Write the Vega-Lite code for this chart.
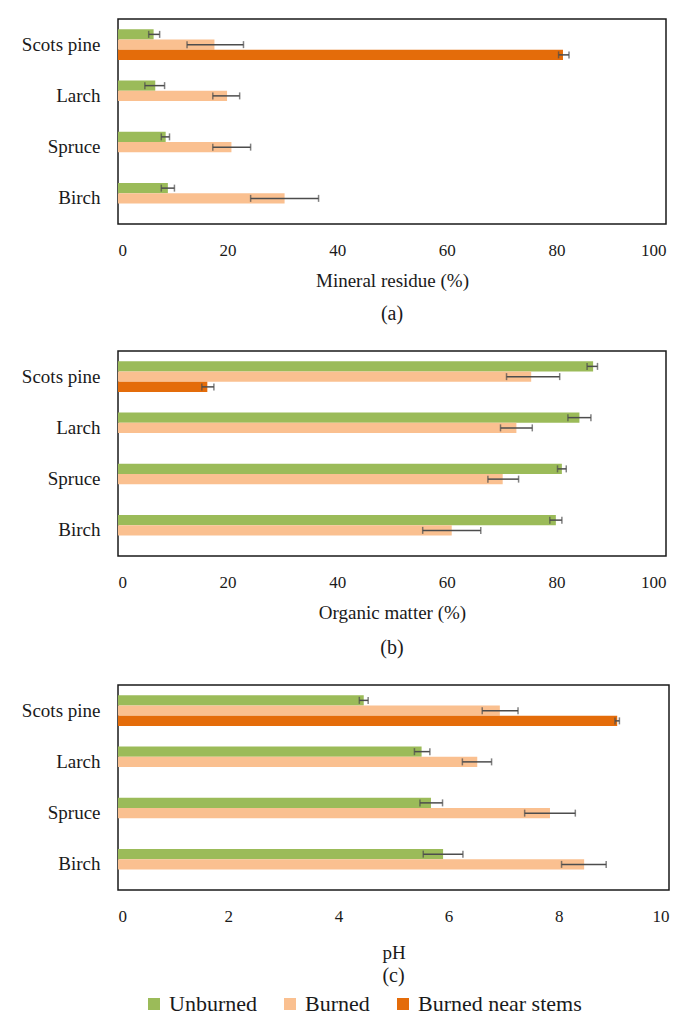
{
  "$schema": "https://vega.github.io/schema/vega-lite/v6.json",
  "padding": {"top": 18, "left": 20, "right": 2, "bottom": 2},
  "background": "white",
  "config": {
    "view": {"stroke": "#1a1a1a", "strokeWidth": 1.5},
    "font": "Liberation Serif",
    "axis": {"grid": false, "domain": false, "ticks": false, "tickSize": 0, "labelFont": "Liberation Serif", "labelColor": "#1a1a1a", "titleFont": "Liberation Serif", "titleColor": "#1a1a1a", "titleFontWeight": "normal"},
    "axisX": {"labelFont": "Liberation Serif", "labelFontSize": 17, "labelPadding": 18, "titleFontSize": 19, "titlePadding": 13},
    "axisY": {"labelFont": "Liberation Serif", "labelFontSize": 19, "labelPadding": 18},
    "title": {"font": "Liberation Serif", "fontSize": 20, "fontWeight": "normal", "color": "#1a1a1a", "orient": "bottom"},
    "legend": {"labelFont": "Liberation Serif", "labelFontSize": 22, "labelColor": "#1a1a1a", "labelLimit": 400}
  },
  "datasets": {
    "a": [
      {"species": "Scots pine", "cond": "Unburned", "value": 6.5, "lo": 5.6, "hi": 7.6},
      {"species": "Scots pine", "cond": "Burned", "value": 17.6, "lo": 12.6, "hi": 22.9},
      {"species": "Scots pine", "cond": "Burned near stems", "value": 81.2, "lo": 80.4, "hi": 82.3},
      {"species": "Larch", "cond": "Unburned", "value": 6.8, "lo": 4.9, "hi": 8.5},
      {"species": "Larch", "cond": "Burned", "value": 19.9, "lo": 17.3, "hi": 22.2},
      {"species": "Spruce", "cond": "Unburned", "value": 8.7, "lo": 7.9, "hi": 9.4},
      {"species": "Spruce", "cond": "Burned", "value": 20.7, "lo": 17.3, "hi": 24.2},
      {"species": "Birch", "cond": "Unburned", "value": 9.1, "lo": 7.9, "hi": 10.3},
      {"species": "Birch", "cond": "Burned", "value": 30.4, "lo": 24.2, "hi": 36.6}
    ],
    "b": [
      {"species": "Scots pine", "cond": "Unburned", "value": 86.7, "lo": 85.6, "hi": 87.5},
      {"species": "Scots pine", "cond": "Burned", "value": 75.4, "lo": 70.9, "hi": 80.6},
      {"species": "Scots pine", "cond": "Burned near stems", "value": 16.3, "lo": 15.3, "hi": 17.5},
      {"species": "Larch", "cond": "Unburned", "value": 84.2, "lo": 82.1, "hi": 86.3},
      {"species": "Larch", "cond": "Burned", "value": 72.7, "lo": 69.8, "hi": 75.6},
      {"species": "Spruce", "cond": "Unburned", "value": 81.0, "lo": 80.2, "hi": 81.8},
      {"species": "Spruce", "cond": "Burned", "value": 70.2, "lo": 67.5, "hi": 73.1},
      {"species": "Birch", "cond": "Unburned", "value": 79.9, "lo": 78.8, "hi": 81.0},
      {"species": "Birch", "cond": "Burned", "value": 60.9, "lo": 55.6, "hi": 66.2}
    ],
    "c": [
      {"species": "Scots pine", "cond": "Unburned", "value": 4.46, "lo": 4.38, "hi": 4.54},
      {"species": "Scots pine", "cond": "Burned", "value": 6.93, "lo": 6.61, "hi": 7.26},
      {"species": "Scots pine", "cond": "Burned near stems", "value": 9.06, "lo": 9.02, "hi": 9.1},
      {"species": "Larch", "cond": "Unburned", "value": 5.51, "lo": 5.38, "hi": 5.66},
      {"species": "Larch", "cond": "Burned", "value": 6.52, "lo": 6.25, "hi": 6.78},
      {"species": "Spruce", "cond": "Unburned", "value": 5.68, "lo": 5.48, "hi": 5.89},
      {"species": "Spruce", "cond": "Burned", "value": 7.84, "lo": 7.38, "hi": 8.3},
      {"species": "Birch", "cond": "Unburned", "value": 5.9, "lo": 5.54, "hi": 6.26},
      {"species": "Birch", "cond": "Burned", "value": 8.46, "lo": 8.05, "hi": 8.86}
    ]
  },
  "spacing": 25,
  "vconcat": [
    {
      "width": 548, "height": 205,
      "data": {"name": "a"},
      "title": {"text": "(a)", "offset": 14, "font": "Liberation Serif"},
      "encoding": {
        "y": {"field": "species", "type": "nominal", "sort": ["Scots pine", "Larch", "Spruce", "Birch"], "scale": {"paddingInner": 0.4, "paddingOuter": 0.2}, "axis": {"title": null, "labelFont": "Liberation Serif"}},
        "yOffset": {"field": "cond", "type": "nominal", "sort": ["Unburned", "Burned", "Burned near stems"], "scale": {"domain": ["Unburned", "Burned", "Burned near stems"], "paddingInner": 0, "paddingOuter": 0}}
      },
      "layer": [
        {"mark": {"type": "bar"}, "encoding": {
          "x": {"field": "value", "type": "quantitative", "scale": {"domain": [0, 100], "nice": false}, "axis": {"values": [0, 20, 40, 60, 80, 100], "title": "Mineral residue (%)", "labelFont": "Liberation Serif", "titleFont": "Liberation Serif"}},
          "color": {"field": "cond", "type": "nominal", "scale": {"domain": ["Unburned", "Burned", "Burned near stems"], "range": ["#9BBB59", "#FAC090", "#E46C0A"]}, "legend": {"title": null, "orient": "none", "legendX": 25, "legendY": 974, "direction": "horizontal", "symbolType": "square", "symbolSize": 144, "symbolStrokeWidth": 0, "columnPadding": 22, "labelOffset": 4, "labelFont": "Liberation Serif", "labelFontSize": 22, "labelLimit": 400}}}},
        {"mark": {"type": "rule", "color": "#4d4d4d", "strokeWidth": 1.5}, "encoding": {
          "x": {"field": "lo", "type": "quantitative", "axis": {"values": [0, 20, 40, 60, 80, 100], "title": "Mineral residue (%)", "labelFont": "Liberation Serif", "titleFont": "Liberation Serif"}}, "x2": {"field": "hi"}}},
        {"mark": {"type": "tick", "color": "#4d4d4d", "thickness": 1.5, "size": 7}, "encoding": {
          "x": {"field": "lo", "type": "quantitative", "axis": {"values": [0, 20, 40, 60, 80, 100], "title": "Mineral residue (%)", "labelFont": "Liberation Serif", "titleFont": "Liberation Serif"}}}},
        {"mark": {"type": "tick", "color": "#4d4d4d", "thickness": 1.5, "size": 7}, "encoding": {
          "x": {"field": "hi", "type": "quantitative", "axis": {"values": [0, 20, 40, 60, 80, 100], "title": "Mineral residue (%)", "labelFont": "Liberation Serif", "titleFont": "Liberation Serif"}}}}
      ]
    },
    {
      "width": 548, "height": 205,
      "data": {"name": "b"},
      "title": {"text": "(b)", "offset": 16, "font": "Liberation Serif"},
      "encoding": {
        "y": {"field": "species", "type": "nominal", "sort": ["Scots pine", "Larch", "Spruce", "Birch"], "scale": {"paddingInner": 0.4, "paddingOuter": 0.2}, "axis": {"title": null, "labelFont": "Liberation Serif"}},
        "yOffset": {"field": "cond", "type": "nominal", "sort": ["Unburned", "Burned", "Burned near stems"], "scale": {"domain": ["Unburned", "Burned", "Burned near stems"], "paddingInner": 0, "paddingOuter": 0}}
      },
      "layer": [
        {"mark": {"type": "bar"}, "encoding": {
          "x": {"field": "value", "type": "quantitative", "scale": {"domain": [0, 100], "nice": false}, "axis": {"values": [0, 20, 40, 60, 80, 100], "title": "Organic matter (%)", "labelFont": "Liberation Serif", "titleFont": "Liberation Serif"}},
          "color": {"field": "cond", "type": "nominal", "scale": {"domain": ["Unburned", "Burned", "Burned near stems"], "range": ["#9BBB59", "#FAC090", "#E46C0A"]}, "legend": {"title": null, "orient": "none", "legendX": 25, "legendY": 974, "direction": "horizontal", "symbolType": "square", "symbolSize": 144, "symbolStrokeWidth": 0, "columnPadding": 22, "labelOffset": 4, "labelFont": "Liberation Serif", "labelFontSize": 22, "labelLimit": 400}}}},
        {"mark": {"type": "rule", "color": "#4d4d4d", "strokeWidth": 1.5}, "encoding": {
          "x": {"field": "lo", "type": "quantitative", "axis": {"values": [0, 20, 40, 60, 80, 100], "title": "Organic matter (%)", "labelFont": "Liberation Serif", "titleFont": "Liberation Serif"}}, "x2": {"field": "hi"}}},
        {"mark": {"type": "tick", "color": "#4d4d4d", "thickness": 1.5, "size": 7}, "encoding": {
          "x": {"field": "lo", "type": "quantitative", "axis": {"values": [0, 20, 40, 60, 80, 100], "title": "Organic matter (%)", "labelFont": "Liberation Serif", "titleFont": "Liberation Serif"}}}},
        {"mark": {"type": "tick", "color": "#4d4d4d", "thickness": 1.5, "size": 7}, "encoding": {
          "x": {"field": "hi", "type": "quantitative", "axis": {"values": [0, 20, 40, 60, 80, 100], "title": "Organic matter (%)", "labelFont": "Liberation Serif", "titleFont": "Liberation Serif"}}}}
      ]
    },
    {
      "width": 551, "height": 205,
      "data": {"name": "c"},
      "title": {"text": "(c)", "offset": 4, "font": "Liberation Serif"},
      "encoding": {
        "y": {"field": "species", "type": "nominal", "sort": ["Scots pine", "Larch", "Spruce", "Birch"], "scale": {"paddingInner": 0.4, "paddingOuter": 0.2}, "axis": {"title": null, "labelFont": "Liberation Serif"}},
        "yOffset": {"field": "cond", "type": "nominal", "sort": ["Unburned", "Burned", "Burned near stems"], "scale": {"domain": ["Unburned", "Burned", "Burned near stems"], "paddingInner": 0, "paddingOuter": 0}}
      },
      "layer": [
        {"mark": {"type": "bar"}, "encoding": {
          "x": {"field": "value", "type": "quantitative", "scale": {"domain": [0, 10], "nice": false}, "axis": {"values": [0, 2, 4, 6, 8, 10], "title": "pH", "titlePadding": 19, "labelFont": "Liberation Serif", "titleFont": "Liberation Serif"}},
          "color": {"field": "cond", "type": "nominal", "scale": {"domain": ["Unburned", "Burned", "Burned near stems"], "range": ["#9BBB59", "#FAC090", "#E46C0A"]}, "legend": {"title": null, "orient": "none", "legendX": 25, "legendY": 974, "direction": "horizontal", "symbolType": "square", "symbolSize": 144, "symbolStrokeWidth": 0, "columnPadding": 22, "labelOffset": 4, "labelFont": "Liberation Serif", "labelFontSize": 22, "labelLimit": 400}}}},
        {"mark": {"type": "rule", "color": "#4d4d4d", "strokeWidth": 1.5}, "encoding": {
          "x": {"field": "lo", "type": "quantitative", "axis": {"values": [0, 2, 4, 6, 8, 10], "title": "pH", "titlePadding": 19, "labelFont": "Liberation Serif", "titleFont": "Liberation Serif"}}, "x2": {"field": "hi"}}},
        {"mark": {"type": "tick", "color": "#4d4d4d", "thickness": 1.5, "size": 7}, "encoding": {
          "x": {"field": "lo", "type": "quantitative", "axis": {"values": [0, 2, 4, 6, 8, 10], "title": "pH", "titlePadding": 19, "labelFont": "Liberation Serif", "titleFont": "Liberation Serif"}}}},
        {"mark": {"type": "tick", "color": "#4d4d4d", "thickness": 1.5, "size": 7}, "encoding": {
          "x": {"field": "hi", "type": "quantitative", "axis": {"values": [0, 2, 4, 6, 8, 10], "title": "pH", "titlePadding": 19, "labelFont": "Liberation Serif", "titleFont": "Liberation Serif"}}}}
      ]
    }
  ]
}
